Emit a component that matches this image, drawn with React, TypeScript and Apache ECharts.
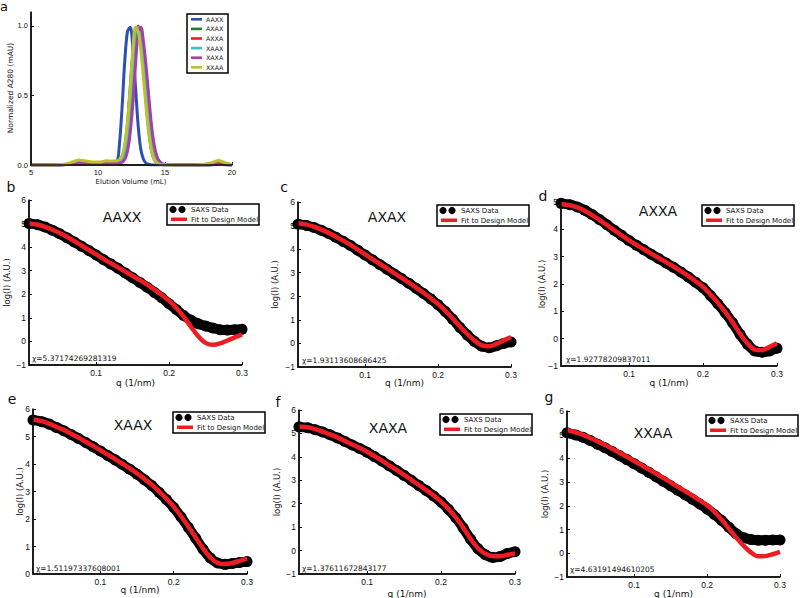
import React, { useEffect, useRef } from "react";
import * as echarts from "echarts";

// ---------- Panel a: SEC traces ----------
const elutionVolume = [5, 6, 7, 7.6, 8.2, 8.6, 9.0, 9.6, 10.2, 10.6, 11.0, 11.4, 11.6, 11.8, 12.0, 12.2, 12.4, 12.6, 12.8, 13.0, 13.2, 13.4, 13.6, 13.8, 14.0, 14.2, 14.4, 14.6, 14.8, 15.2, 16, 17, 18, 18.6, 19, 19.4, 20];
const secAAXX = [0, 0, 0, 0.003, 0.008, 0.012, 0.01, 0.008, 0.008, 0.01, 0.01, 0.02, 0.15, 0.42, 0.75, 0.96, 0.99, 0.84, 0.56, 0.28, 0.11, 0.04, 0.012, 0.004, 0, 0, 0, 0, 0, 0, 0, 0, 0, 0.002, 0.004, 0.002, 0];
const secAXAX = [0, 0, 0, 0.003, 0.01, 0.015, 0.012, 0.01, 0.01, 0.012, 0.012, 0.015, 0.025, 0.05, 0.13, 0.3, 0.55, 0.8, 0.96, 0.99, 0.9, 0.7, 0.45, 0.24, 0.1, 0.04, 0.015, 0.006, 0.003, 0.001, 0, 0, 0, 0.003, 0.006, 0.003, 0];
const secAXXA = [0, 0, 0, 0.004, 0.012, 0.018, 0.014, 0.01, 0.01, 0.012, 0.012, 0.013, 0.017, 0.028, 0.07, 0.17, 0.35, 0.6, 0.87, 1.0, 0.93, 0.78, 0.56, 0.35, 0.18, 0.08, 0.03, 0.01, 0.004, 0.001, 0, 0, 0.004, 0.015, 0.022, 0.012, 0];
const secXAAX = [0, 0, 0, 0.005, 0.015, 0.025, 0.018, 0.012, 0.012, 0.015, 0.015, 0.015, 0.02, 0.035, 0.08, 0.2, 0.41, 0.67, 0.92, 0.99, 0.9, 0.73, 0.51, 0.3, 0.15, 0.065, 0.025, 0.01, 0.004, 0.001, 0, 0, 0, 0.003, 0.006, 0.003, 0];
const secXAXA = [0, 0, 0, 0.004, 0.012, 0.018, 0.014, 0.01, 0.01, 0.012, 0.012, 0.013, 0.016, 0.02, 0.04, 0.1, 0.23, 0.44, 0.72, 0.95, 0.99, 0.88, 0.7, 0.48, 0.28, 0.14, 0.06, 0.025, 0.01, 0.003, 0, 0, 0, 0.003, 0.006, 0.003, 0];
const secXXAA = [0, 0, 0.002, 0.008, 0.025, 0.036, 0.03, 0.022, 0.022, 0.03, 0.028, 0.03, 0.04, 0.07, 0.15, 0.31, 0.55, 0.83, 0.99, 0.96, 0.82, 0.62, 0.4, 0.22, 0.1, 0.04, 0.015, 0.006, 0.003, 0.001, 0, 0, 0.005, 0.02, 0.032, 0.02, 0.003];
const secNames = ["AAXX", "AXAX", "AXXA", "XAAX", "XAXA", "XXAA"];
const secValues = [secAAXX, secAXAX, secAXXA, secXAAX, secXAXA, secXXAA];
const secColors = ["#2c4fb3", "#1b7d2e", "#ee1d23", "#33c6c0", "#a83fa8", "#bcc22f"];
const secYTicks = [0, 0.5, 1.0];
const secXTicks = [5, 10, 15, 20];

// ---------- Panels b-g: SAXS ----------
const qGrid = [0.008, 0.02, 0.03, 0.04, 0.05, 0.06, 0.07, 0.08, 0.09, 0.10, 0.11, 0.12, 0.13, 0.14, 0.15, 0.16, 0.17, 0.18, 0.19, 0.20, 0.21, 0.22, 0.23, 0.24, 0.25, 0.26, 0.27, 0.28, 0.29, 0.30];
const qTicks = [0.1, 0.2, 0.3];

const dataAAXX = [5.0, 4.95, 4.85, 4.72, 4.57, 4.4, 4.22, 4.04, 3.86, 3.67, 3.48, 3.29, 3.1, 2.9, 2.7, 2.5, 2.3, 2.08, 1.85, 1.6, 1.35, 1.1, 0.9, 0.75, 0.65, 0.57, 0.5, 0.48, 0.5, 0.52];
const fitAAXX = [5.0, 4.95, 4.86, 4.74, 4.6, 4.44, 4.26, 4.07, 3.88, 3.69, 3.5, 3.32, 3.14, 2.96, 2.78, 2.6, 2.41, 2.2, 1.97, 1.72, 1.42, 1.05, 0.62, 0.22, -0.06, -0.14, -0.08, 0.04, 0.17, 0.3];
const dataAXAX = [5.06, 5.0, 4.92, 4.8, 4.66, 4.5, 4.33, 4.15, 3.95, 3.75, 3.55, 3.35, 3.15, 2.95, 2.75, 2.55, 2.34, 2.12, 1.89, 1.64, 1.35, 1.03, 0.68, 0.36, 0.08, -0.12, -0.18, -0.1, 0.0, 0.06];
const fitAXAX = [5.1, 5.04, 4.95, 4.83, 4.69, 4.53, 4.36, 4.18, 3.98, 3.78, 3.58, 3.38, 3.18, 2.98, 2.78, 2.58, 2.37, 2.15, 1.92, 1.67, 1.38, 1.06, 0.72, 0.4, 0.12, -0.08, -0.12, -0.02, 0.13, 0.27];
const dataAXXA = [4.95, 4.9, 4.82, 4.7, 4.54, 4.36, 4.17, 3.97, 3.78, 3.59, 3.42, 3.25, 3.09, 2.93, 2.77, 2.61, 2.44, 2.26, 2.06, 1.86, 1.58, 1.28, 0.95, 0.58, 0.16, -0.2, -0.45, -0.5, -0.45, -0.35];
const fitAXXA = [4.93, 4.88, 4.8, 4.68, 4.52, 4.35, 4.16, 3.97, 3.78, 3.6, 3.43, 3.27, 3.11, 2.95, 2.8, 2.64, 2.47, 2.3, 2.1, 1.9, 1.62, 1.32, 0.98, 0.6, 0.18, -0.17, -0.4, -0.42, -0.3, -0.17];
const dataXAAX = [5.6, 5.54, 5.45, 5.33, 5.21, 5.07, 4.93, 4.78, 4.63, 4.47, 4.31, 4.15, 3.98, 3.81, 3.63, 3.43, 3.22, 2.97, 2.71, 2.42, 2.07, 1.69, 1.3, 0.9, 0.58, 0.4, 0.35, 0.38, 0.42, 0.45];
const fitXAAX = [5.62, 5.56, 5.47, 5.35, 5.24, 5.1, 4.96, 4.81, 4.66, 4.5, 4.34, 4.18, 4.01, 3.84, 3.66, 3.46, 3.25, 3.0, 2.74, 2.45, 2.1, 1.72, 1.33, 0.93, 0.6, 0.4, 0.36, 0.4, 0.48, 0.57];
const dataXAXA = [5.28, 5.24, 5.16, 5.06, 4.94, 4.81, 4.66, 4.51, 4.36, 4.2, 4.01, 3.82, 3.62, 3.42, 3.21, 3.0, 2.78, 2.56, 2.33, 2.07, 1.76, 1.4, 0.96, 0.48, 0.08, -0.18, -0.3, -0.25, -0.12, -0.05];
const fitXAXA = [5.3, 5.26, 5.18, 5.08, 4.96, 4.83, 4.68, 4.53, 4.38, 4.22, 4.03, 3.84, 3.64, 3.44, 3.23, 3.02, 2.8, 2.58, 2.35, 2.09, 1.78, 1.42, 0.98, 0.5, 0.1, -0.14, -0.24, -0.24, -0.18, -0.12];
const dataXXAA = [5.08, 4.99, 4.89, 4.76, 4.6, 4.45, 4.29, 4.12, 3.95, 3.78, 3.6, 3.42, 3.23, 3.04, 2.85, 2.66, 2.47, 2.28, 2.08, 1.87, 1.64, 1.38, 1.1, 0.82, 0.66, 0.58, 0.55, 0.55, 0.56, 0.56];
const fitXXAA = [5.2, 5.1, 4.99, 4.86, 4.72, 4.57, 4.41, 4.24, 4.07, 3.89, 3.72, 3.54, 3.36, 3.18, 2.99, 2.8, 2.62, 2.43, 2.23, 2.03, 1.76, 1.42, 1.04, 0.66, 0.32, 0.04, -0.13, -0.12, -0.04, 0.06];

const saxsNames = ["AAXX", "AXAX", "AXXA", "XAAX", "XAXA", "XXAA"];
const saxsData = [dataAAXX, dataAXAX, dataAXXA, dataXAAX, dataXAXA, dataXXAA];
const saxsFit = [fitAAXX, fitAXAX, fitAXXA, fitXAAX, fitXAXA, fitXXAA];
const saxsChi = ["5.37174269281319", "1.93113608686425", "1.92778209837011", "1.51197337608001", "1.37611672843177", "4.63191494610205"];
const saxsYMin = [-1, -1, -1, 0, -1, -1];
const saxsYMax = [6, 6, 5, 6, 6, 6];
const panelLetters = ["b", "c", "d", "e", "f", "g"];

// layout (pixels)
const saxsGrids = [
  { left: 29, top: 200, width: 213, height: 165 },
  { left: 298, top: 202, width: 213, height: 165 },
  { left: 561, top: 202, width: 216, height: 164 },
  { left: 33, top: 409, width: 214, height: 165 },
  { left: 299, top: 410, width: 216, height: 164 },
  { left: 567, top: 411, width: 213, height: 166 },
];
const yNameX = [7, 275, 542, 20, 277, 545];
const xNameY = [383, 383, 383, 590, 594, 594];
const legendPos = [[167, 204], [437, 205], [702, 205], [173, 412], [440, 414], [706, 415]];
const titlePos = [[122, 217], [387, 217], [658, 211], [133, 425], [388, 428], [653, 433]];
const chiPos = [[32, 358], [302, 360], [566, 359], [36, 568], [302, 568], [570, 569]];
const letterPos = [[11, 187], [284, 187], [543, 196], [12, 399], [278, 402], [549, 397]];

const FONT = "DejaVu Sans";
const INK = "#111";
const fmtMinus = (v: number) => (v < 0 ? "\u2212" + Math.abs(v) : String(v));

const txt = (x: number, y: number, text: string, size: number, rotation = 0) => ({
  type: "text", x, y, z: 100, rotation,
  style: { text, fontSize: size, fontFamily: FONT, fill: INK, align: "center", verticalAlign: "middle" },
});
const spines = (g: { left: number; top: number; width: number; height: number }) => ({
  type: "polyline", z: 90,
  shape: { points: [[g.left, g.top], [g.left, g.top + g.height], [g.left + g.width, g.top + g.height]] },
  style: { stroke: INK, lineWidth: 1.5, fill: "none" },
});

function secOption() {
  const grid = { left: 31, top: 12, width: 201, height: 153 };
  const graphics: any[] = [
    spines(grid),
    txt(131, 182, "Elution Volume (mL)", 7),
    txt(10, 88, "Normalized A280 (mAU)", 7.5, Math.PI / 2),
    {
      type: "group", x: 187, y: 14, z: 100,
      children: [
        { type: "rect", shape: { x: 0, y: 0, width: 41, height: 59 }, style: { fill: "#fff", stroke: "#000", lineWidth: 1.5 } },
        ...secNames.flatMap((n, i) => [
          { type: "rect", shape: { x: 4, y: 4 + i * 9.6, width: 11, height: 2.6 }, style: { fill: secColors[i] } },
          { type: "text", x: 19, y: 5.3 + i * 9.6, style: { text: n, fontSize: 6.3, fontFamily: FONT, fill: INK, verticalAlign: "middle" } },
        ]),
      ],
    },
    { type: "text", x: 0, y: 0, z: 100, style: { text: "a", fontSize: 13, fontFamily: FONT, fill: INK } },
  ];
  return {
    animation: false,
    grid,
    xAxis: {
      type: "value", min: 5, max: 20, interval: 5, position: "bottom",
      axisLine: { show: true, onZero: false, lineStyle: { color: INK, width: 1.5 } }, splitLine: { show: false },
      axisTick: { inside: true, length: 3, lineStyle: { color: INK } },
      axisLabel: { fontSize: 7.5, color: INK, margin: 3, customValues: secXTicks },
    },
    yAxis: {
      type: "value", min: 0, max: 1.1, position: "left",
      axisLine: { show: true, onZero: false, lineStyle: { color: INK, width: 1.5 } }, splitLine: { show: false },
      axisTick: { inside: true, length: 3, customValues: secYTicks, lineStyle: { color: INK } },
      axisLabel: { fontSize: 7.5, color: INK, margin: 3, customValues: secYTicks, formatter: (v: number) => v.toFixed(1) },
    },
    series: secNames.map((n, i) => ({
      type: "line", name: n, smooth: 0.35, showSymbol: false,
      lineStyle: { color: secColors[i], width: 3 }, z: 2 + i,
      data: elutionVolume.map((x, k) => [x, secValues[i][k]]),
    })),
    graphic: graphics,
  };
}

function saxsOption() {
  const xAxes: any[] = [];
  const yAxes: any[] = [];
  const series: any[] = [];
  const graphics: any[] = [];
  saxsNames.forEach((n, p) => {
    const g = saxsGrids[p];
    xAxes.push({
      type: "value", gridIndex: p, min: 0.008, max: 0.3, position: "bottom",
      axisLine: { show: true, onZero: false, lineStyle: { color: INK, width: 1.5 } },
      splitLine: { show: false },
      axisTick: { inside: true, length: 3, customValues: qTicks, lineStyle: { color: INK } },
      axisLabel: { fontSize: 8.5, color: INK, margin: 3, customValues: qTicks, formatter: (v: number) => v.toFixed(1) },
    });
    yAxes.push({
      type: "value", gridIndex: p, min: saxsYMin[p], max: saxsYMax[p], interval: 1, position: "left",
      axisLine: { show: true, onZero: false, lineStyle: { color: INK, width: 1.5 } },
      splitLine: { show: false },
      axisTick: { inside: true, length: 3, lineStyle: { color: INK } },
      axisLabel: { fontSize: 8.5, color: INK, margin: 3, formatter: fmtMinus },
    });
    series.push({
      type: "line", name: "SAXS Data", xAxisIndex: p, yAxisIndex: p, smooth: 0.3,
      showSymbol: true, symbol: "circle", symbolSize: 11,
      itemStyle: { color: "#000" }, lineStyle: { color: "#000", width: 10 }, z: 3,
      data: qGrid.map((q, k) => [q, saxsData[p][k]]),
    });
    series.push({
      type: "line", name: "Fit to Design Model", xAxisIndex: p, yAxisIndex: p, smooth: 0.3,
      showSymbol: false, lineStyle: { color: "#ee1d23", width: 4.5 }, z: 4,
      data: qGrid.map((q, k) => [q, saxsFit[p][k]]),
    });
    graphics.push(spines(g));
    graphics.push(txt(g.left + g.width / 2, xNameY[p], "q (1/nm)", 9));
    graphics.push(txt(yNameX[p], g.top + g.height / 2, "log(I) (A.U.)", 8.5, Math.PI / 2));
    const [lx, ly] = legendPos[p];
    graphics.push({
      type: "group", x: lx, y: ly, z: 100,
      children: [
        { type: "rect", shape: { x: 0, y: 0, width: 92, height: 21 }, style: { fill: "#fff", stroke: "#000", lineWidth: 1.5 } },
        { type: "circle", shape: { cx: 6, cy: 5.5, r: 3.6 }, style: { fill: "#000" } },
        { type: "circle", shape: { cx: 15, cy: 5.5, r: 3.6 }, style: { fill: "#000" } },
        { type: "rect", shape: { x: 4, y: 13.5, width: 16, height: 3.5 }, style: { fill: "#ee1d23" } },
        { type: "text", x: 24, y: 5.8, style: { text: "SAXS Data", fontSize: 7, fontFamily: FONT, fill: INK, verticalAlign: "middle" } },
        { type: "text", x: 24, y: 15.5, style: { text: "Fit to Design Model", fontSize: 7, fontFamily: FONT, fill: INK, verticalAlign: "middle" } },
      ],
    });
    const [tx, ty] = titlePos[p];
    graphics.push(txt(tx, ty, n, 14));
    const [cx, cy] = chiPos[p];
    graphics.push({
      type: "text", x: cx, y: cy, z: 100,
      style: { text: "\u03C7=" + saxsChi[p], fontSize: 7.5, fontFamily: FONT, fill: INK, verticalAlign: "middle" },
    });
    const [px, py] = letterPos[p];
    graphics.push(txt(px, py, panelLetters[p], 14));
  });
  return { animation: false, grid: saxsGrids, xAxis: xAxes, yAxis: yAxes, series, graphic: graphics };
}

export default function App() {
  const refA = useRef<HTMLDivElement>(null);
  const refB = useRef<HTMLDivElement>(null);
  useEffect(() => {
    document.body.style.margin = "0";
    const chartB = echarts.init(refB.current!, null, { renderer: "svg" });
    chartB.setOption(saxsOption());
    const chartA = echarts.init(refA.current!, null, { renderer: "svg" });
    chartA.setOption(secOption());
    return () => {
      chartA.dispose();
      chartB.dispose();
    };
  }, []);
  return (
    <div style={{ position: "relative", width: 800, height: 598, background: "#fff", fontFamily: FONT }}>
      <div ref={refB} style={{ position: "absolute", left: 0, top: 0, width: 800, height: 598 }} />
      <div ref={refA} style={{ position: "absolute", left: 0, top: 0, width: 800, height: 186 }} />
    </div>
  );
}
